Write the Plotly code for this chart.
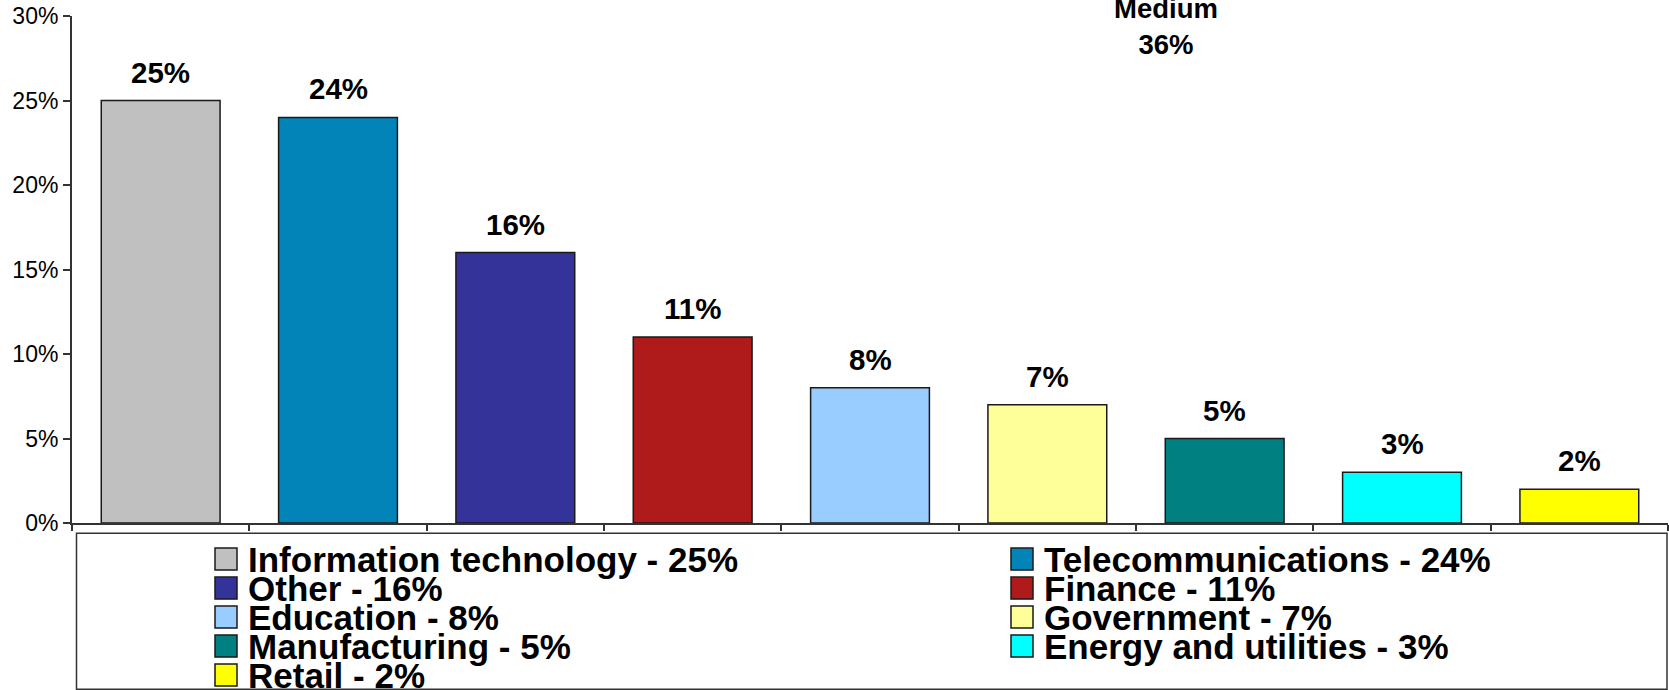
import plotly.graph_objects as go

categories = ["Information technology", "Telecommunications", "Other", "Finance",
              "Education", "Government", "Manufacturing", "Energy and utilities", "Retail"]
values = [0.25, 0.24, 0.16, 0.11, 0.08, 0.07, 0.05, 0.03, 0.02]
colors = ["#C0C0C0", "#0384B8", "#333399", "#AF1A1A", "#99CCFF",
          "#FFFF99", "#008080", "#00FFFF", "#FFFF00"]
y_ticks = [0, 0.05, 0.10, 0.15, 0.20, 0.25, 0.30]
overlay_text = "Medium<br>36%"

W, H = 1669, 690
L, R_END, TOP, BOT = 72, 1668, 15.7, 522.7
PW, PH = R_END - L, BOT - TOP


def px(x):
    return (x - L) / PW


def py(y):
    return (BOT - y) / PH


fig = go.Figure()
fig.add_trace(go.Bar(
    x=categories, y=values,
    marker=dict(color=colors, line=dict(color="#1a1a1a", width=1.5)),
    showlegend=False, hoverinfo="skip",
))

annotations = []
for c, v in zip(categories, values):
    annotations.append(dict(
        x=c, y=v, xref="x", yref="y", text=f"<b>{round(v*100)}%</b>",
        showarrow=False, yanchor="bottom", yshift=10,
        font=dict(family="Liberation Sans, Arial", size=29.5, color="#000000"),
    ))

annotations.append(dict(
    x=px(1166), y=py(26), xref="paper", yref="paper", text=f"<b>{overlay_text}</b>",
    showarrow=False, xanchor="center", yanchor="middle",
    font=dict(family="Liberation Sans, Arial", size=27.5, color="#000000"),
))

shapes = [dict(type="rect", xref="paper", yref="paper",
               x0=px(76.5), x1=px(1667), y0=py(533), y1=py(689),
               line=dict(color="#333333", width=1.5), fillcolor="rgba(0,0,0,0)")]

col_sw = [215, 1011]
col_tx = [246, 1042]
row0, rstep = 558.8, 29
for i, (c, v, col) in enumerate(zip(categories, values, colors)):
    r, k = divmod(i, 2)
    cy = row0 + r * rstep
    shapes.append(dict(type="rect", xref="paper", yref="paper",
                       x0=px(col_sw[k]), x1=px(col_sw[k] + 22),
                       y0=py(cy - 11), y1=py(cy + 11),
                       line=dict(color="#1a1a1a", width=1.5), fillcolor=col))
    annotations.append(dict(
        x=px(col_tx[k]), y=py(cy), xref="paper", yref="paper",
        text=f"<b>{c} - {round(v*100)}%</b>", showarrow=False,
        xanchor="left", yanchor="middle",
        font=dict(family="Liberation Sans, Arial", size=35, color="#000000"),
    ))

fig.update_layout(
    width=W, height=H,
    margin=dict(l=L, r=W - R_END, t=TOP, b=H - BOT, pad=0),
    paper_bgcolor="white", plot_bgcolor="white",
    bargap=0.33,
    xaxis=dict(type="category", categoryorder="array", categoryarray=categories,
               showline=True, linecolor="#333333", linewidth=2,
               ticks="outside", tickson="boundaries", ticklen=6, tickwidth=1.5,
               tickcolor="#333333", showticklabels=False, showgrid=False,
               zeroline=False),
    yaxis=dict(range=[0, 0.30], tickvals=y_ticks, tickformat=".0%",
               showline=True, linecolor="#333333", linewidth=2,
               ticks="outside", ticklen=7, tickwidth=1.5, tickcolor="#333333",
               showgrid=False, zeroline=False,
               tickfont=dict(family="Liberation Sans, Arial", size=23, color="#000000")),
    annotations=annotations, shapes=shapes,
)

fig.write_html("out.html")
